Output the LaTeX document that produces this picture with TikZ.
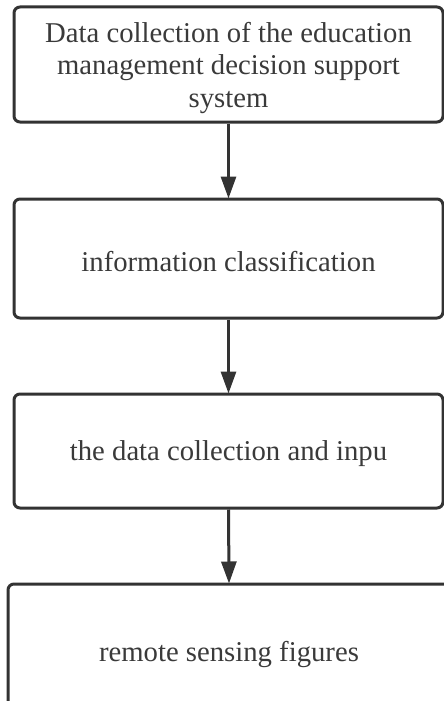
\documentclass[tikz,border=0pt]{standalone}
\usepackage{fontspec}
\setmainfont{Liberation Serif}
\usetikzlibrary{arrows.meta}
\definecolor{edge}{HTML}{333333}
\definecolor{txt}{HTML}{3A3A3A}
\begin{document}
\begin{tikzpicture}[x=1pt,y=-1pt,
  stepbox/.style={draw=edge, line width=3pt, rounded corners=6pt, fill=white,
    inner sep=0pt, minimum width=429pt},
  lbl/.style={text=txt, align=center, inner sep=0pt, yshift=-3pt,
    font=\fontsize{28.7}{32.5}\selectfont},
  flow/.style={draw=edge, line width=3pt,
    -{Triangle[length=22pt,width=15pt]}, shorten >=-1pt}]
\useasboundingbox (0,0) rectangle (444,701);
\clip (0,0) rectangle (444,701);
% boxes of the flow
\node[stepbox, minimum height=115pt] (b1) at (228.5,64.5) {};
\node[stepbox, minimum height=119pt] (b2) at (228.5,258.5) {};
\node[stepbox, minimum height=114pt] (b3) at (228.5,451) {};
\node[stepbox, minimum width=442pt, minimum height=134pt] (b4) at (229,651) {};
% box texts
\node[lbl] (t1) at (b1.center)
  {Data collection of the education\\management decision support\\system};
\node[lbl] (t2) at (b2.center) {information classification};
\node[lbl] (t3) at (b3.center) {the data collection and inpu};
\node[lbl] (t4) at (b4.center) {remote sensing figures};
% connectors
\draw[flow] (b1.south) -- (b2.north);
\draw[flow] (b2.south) -- (b3.north);
\draw[flow] (b3.south) -- (b4.north);
\end{tikzpicture}
\end{document}
